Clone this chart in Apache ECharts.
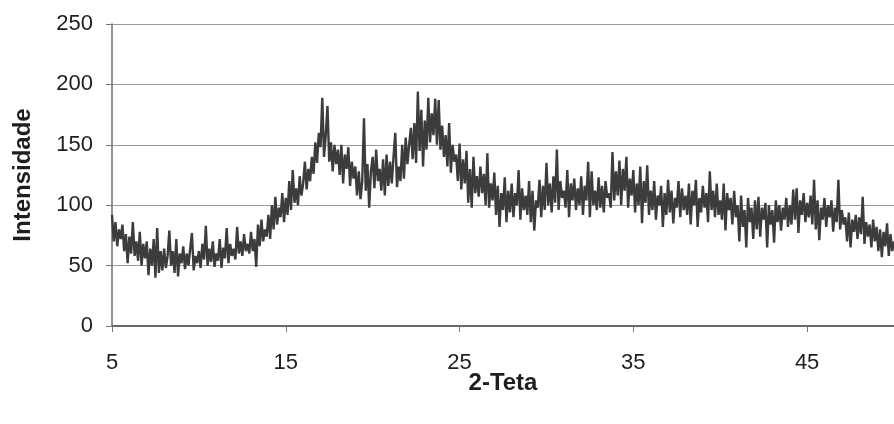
<!DOCTYPE html>
<html>
<head>
<meta charset="utf-8">
<script src="https://cdn.jsdelivr.net/npm/echarts@6/dist/echarts.min.js"></script>
<style>
  html, body { margin: 0; padding: 0; background: #ffffff; }
  #chart { width: 894px; height: 424px; }
</style>
</head>
<body>
<div id="chart"></div>
<script>
// Diffractogram: intensity sampled every 0.1 degree from 2θ = 5 to 50
const angleStart = 5;
const angleStep = 0.1;

const intensity = [
  92, 70, 86, 66, 80, 72, 84, 62, 76, 52,        // 5.x
  74, 60, 86, 58, 70, 54, 78, 50, 68, 56,        // 6.x
  70, 42, 64, 50, 72, 40, 81, 44, 62, 46,        // 7.x
  64, 48, 58, 79, 50, 62, 44, 72, 41, 60,        // 8.x
  52, 66, 47, 60, 50, 64, 77, 46, 58, 52,        // 9.x
  62, 48, 68, 55, 83, 50, 64, 53, 70, 49,        // 10.x
  60, 54, 72, 48, 65, 56, 81, 52, 68, 58,        // 11.x
  64, 55, 82, 60, 70, 58, 76, 62, 68, 60,        // 12.x
  78, 62, 72, 49, 84, 66, 88, 70, 80, 74,        // 13.x
  92, 72, 100, 80, 107, 84, 98, 90, 110, 86,     // 14.x
  106, 92, 120, 96, 129, 102, 114, 100, 124, 108, // 15.x
  118, 136, 113, 130, 120, 140, 126, 152, 135, 160, // 16.x
  148, 189, 140, 158, 182, 136, 152, 128, 150, 134, // 17.x
  146, 125, 150, 118, 142, 130, 148, 116, 136, 122, // 18.x
  132, 108, 128, 105, 120, 172, 112, 134, 98, 128,  // 19.x
  140, 114, 146, 120, 130, 112, 138, 108, 142, 116, // 20.x
  136, 118, 140, 160, 115, 132, 120, 150, 122, 156, // 21.x
  134, 150, 164, 138, 168, 135, 194, 145, 179, 132, // 22.x
  170, 146, 189, 152, 176, 158, 188, 150, 187, 146, // 23.x
  166, 140, 158, 132, 168, 127, 150, 136, 142, 120, // 24.x
  151, 113, 138, 118, 145, 102, 130, 98, 140, 110,  // 25.x
  124, 107, 132, 110, 126, 100, 143, 98, 118, 104,  // 26.x
  127, 92, 116, 82, 110, 96, 123, 86, 112, 94,      // 27.x
  118, 90, 110, 100, 129, 88, 114, 96, 108, 92,     // 28.x
  120, 86, 112, 79, 104, 98, 121, 90, 116, 96,      // 29.x
  135, 100, 118, 94, 124, 102, 146, 96, 120, 106,   // 30.x
  112, 98, 129, 90, 118, 104, 122, 96, 114, 100,    // 31.x
  124, 92, 116, 104, 136, 90, 128, 100, 112, 96,    // 32.x
  123, 98, 116, 94, 120, 106, 110, 98, 144, 104,    // 33.x
  128, 108, 137, 100, 130, 112, 140, 98, 122, 108,  // 34.x
  129, 94, 118, 100, 132, 85, 120, 102, 133, 92,    // 35.x
  112, 96, 120, 88, 108, 100, 116, 82, 110, 92,     // 36.x
  121, 94, 112, 85, 106, 98, 120, 90, 114, 96,      // 37.x
  108, 92, 118, 84, 112, 100, 121, 82, 106, 94,     // 38.x
  116, 98, 110, 86, 128, 96, 112, 90, 118, 92,      // 39.x
  104, 88, 118, 79, 110, 96, 106, 84, 112, 90,      // 40.x
  100, 70, 108, 82, 96, 65, 106, 86, 98, 72,        // 41.x
  104, 80, 107, 74, 98, 88, 102, 65, 100, 84,       // 42.x
  96, 69, 104, 86, 100, 79, 98, 88, 106, 82,        // 43.x
  100, 84, 113, 88, 114, 77, 104, 92, 110, 86,      // 44.x
  102, 90, 108, 84, 121, 80, 104, 71, 98, 88,       // 45.x
  106, 82, 100, 90, 104, 78, 98, 86, 121, 80,       // 46.x
  96, 84, 90, 70, 94, 65, 88, 78, 92, 72,           // 47.x
  90, 76, 107, 68, 86, 74, 84, 65, 88, 70,          // 48.x
  82, 62, 80, 57, 78, 66, 85, 58, 76, 62,           // 49.x
  70                                                // 50.0
];

const xTickValues = [5, 15, 25, 35, 45];
const yTickValues = [0, 50, 100, 150, 200, 250];

const series = intensity.map((v, i) => [Number((angleStart + i * angleStep).toFixed(1)), v]);

const labelFont = { fontFamily: 'Liberation Sans, Arial, sans-serif', fontSize: 22, color: '#1e1e1e' };
const nameFont = { fontFamily: 'Liberation Sans, Arial, sans-serif', fontSize: 24, fontWeight: 'bold', color: '#1e1e1e' };

const chart = echarts.init(document.getElementById('chart'), null, { renderer: 'canvas' });
chart.setOption({
  animation: false,
  backgroundColor: '#ffffff',
  grid: { left: 112, right: 0, top: 24, bottom: 98, containLabel: false },
  xAxis: {
    type: 'value',
    min: 5,
    max: 50,
    interval: 10,
    name: '2-Teta',
    nameLocation: 'middle',
    nameGap: 45,
    nameMoveOverlap: false,
    nameTextStyle: nameFont,
    axisLine: { show: false },
    axisTick: { show: true, length: 6, customValues: xTickValues, lineStyle: { color: '#777', width: 1 } },
    axisLabel: { margin: 26, customValues: xTickValues, ...labelFont },
    splitLine: { show: false }
  },
  yAxis: {
    type: 'value',
    min: 0,
    max: 250,
    interval: 50,
    name: 'Intensidade',
    nameLocation: 'middle',
    nameGap: 77,
    nameMoveOverlap: false,
    nameTextStyle: nameFont,
    axisLine: { show: true, lineStyle: { color: '#6f6f6f', width: 1.5 } },
    axisTick: { show: true, length: 6, customValues: yTickValues, lineStyle: { color: '#777', width: 1 } },
    axisLabel: { margin: 19, customValues: yTickValues, ...labelFont },
    splitLine: { show: true, lineStyle: { color: '#9a9a9a', width: 1 } }
  },
  series: [{
    type: 'line',
    data: series,
    showSymbol: false,
    sampling: null,
    lineStyle: { color: '#3c3c3c', width: 2.4 },
    z: 3
  }, {
    // baseline drawn over the zero grid line
    type: 'line',
    data: [[5, 0], [50, 0]],
    showSymbol: false,
    silent: true,
    lineStyle: { color: '#6a6a6a', width: 2 },
    z: 2
  }]
});
</script>
</body>
</html>
